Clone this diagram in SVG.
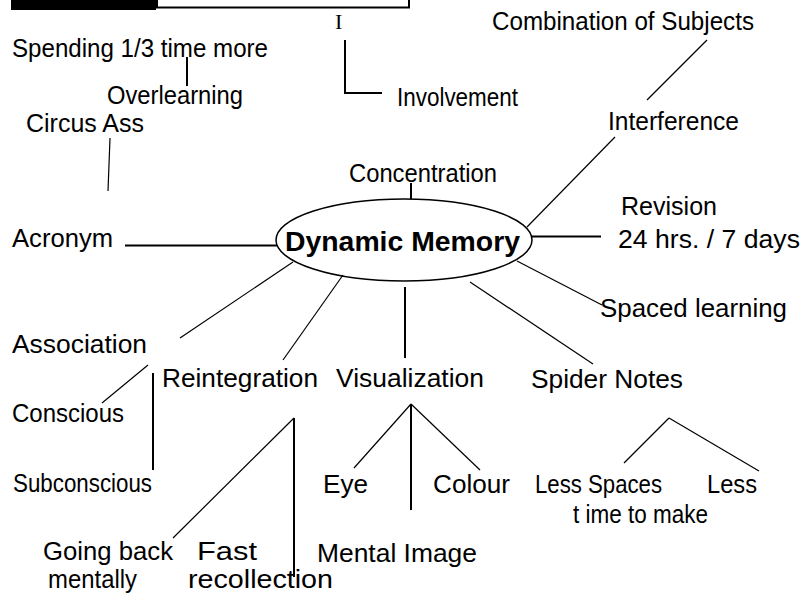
<svg xmlns="http://www.w3.org/2000/svg" width="801" height="600" viewBox="0 0 801 600">
<style>
text{font-family:"Liberation Sans",Arial,sans-serif;font-size:26px;fill:#000}
.b{font-weight:bold;font-size:28px}
.s{font-family:"Liberation Serif","Times New Roman",serif;font-size:22px}
.t{stroke:#000;stroke-width:1.2;fill:none}
.k{stroke:#000;stroke-width:2;fill:none}
</style>
<rect width="801" height="600" fill="#fff"/>
<g id="header">
<rect x="11" y="-2" width="145" height="12" fill="#000"/>
<rect x="157" y="-4" width="252" height="11.5" fill="#fff" stroke="#000" stroke-width="2"/>
<text class="s" x="335" y="29">I</text>
</g>
<g id="connectors">
<line class="k" x1="187" y1="57" x2="187" y2="86"/>
<line class="t" x1="110" y1="138" x2="108" y2="191"/>
<line class="k" x1="125" y1="245.5" x2="277" y2="245.5"/>
<line class="k" x1="411" y1="183" x2="411" y2="199"/>
<polyline class="k" points="345,40 345,93 382,93"/>
<line class="t" x1="707" y1="40" x2="647" y2="100"/>
<line class="t" x1="615" y1="137" x2="527" y2="227"/>
<line class="k" x1="532" y1="236.5" x2="601" y2="236.5"/>
<line class="t" x1="517" y1="261" x2="602" y2="305"/>
<line class="t" x1="470" y1="282" x2="593" y2="364"/>
<line class="k" x1="405" y1="287" x2="405" y2="358"/>
<line class="t" x1="343" y1="275" x2="283" y2="360"/>
<line class="t" x1="293" y1="262" x2="180" y2="338"/>
<line class="t" x1="148" y1="365" x2="102" y2="403"/>
<line class="k" x1="153" y1="373" x2="153" y2="470"/>
<line class="t" x1="294" y1="418" x2="173" y2="538"/>
<line class="k" x1="294" y1="418" x2="294" y2="577"/>
<line class="t" x1="411" y1="404" x2="354" y2="468"/>
<line class="t" x1="411" y1="404" x2="480" y2="470"/>
<line class="k" x1="411" y1="404" x2="411" y2="510"/>
<line class="t" x1="624" y1="463" x2="669" y2="418"/>
<line class="t" x1="669" y1="418" x2="759" y2="471"/>
</g>
<g id="center">
<ellipse cx="404" cy="240" rx="128" ry="41" fill="none" stroke="#000" stroke-width="1.5"/>
<text class="b" x="285" y="251" textLength="235" lengthAdjust="spacingAndGlyphs">Dynamic Memory</text>
</g>
<g id="spending"><text x="12" y="57" textLength="256" lengthAdjust="spacingAndGlyphs">Spending 1/3 time more</text></g>
<g id="overlearning"><text x="107" y="104" textLength="136" lengthAdjust="spacingAndGlyphs">Overlearning</text></g>
<g id="circus"><text x="26" y="132" textLength="118" lengthAdjust="spacingAndGlyphs">Circus Ass</text></g>
<g id="acronym"><text x="12" y="247" textLength="101" lengthAdjust="spacingAndGlyphs">Acronym</text></g>
<g id="concentration"><text x="349" y="182" textLength="148" lengthAdjust="spacingAndGlyphs">Concentration</text></g>
<g id="involvement"><text x="397" y="106" textLength="121" lengthAdjust="spacingAndGlyphs">Involvement</text></g>
<g id="combination"><text x="492" y="30" textLength="262" lengthAdjust="spacingAndGlyphs">Combination of Subjects</text></g>
<g id="interference"><text x="608" y="130" textLength="131" lengthAdjust="spacingAndGlyphs">Interference</text></g>
<g id="revision"><text x="621" y="215" textLength="96" lengthAdjust="spacingAndGlyphs">Revision</text><text x="618" y="248" textLength="182" lengthAdjust="spacingAndGlyphs">24 hrs. / 7 days</text></g>
<g id="spaced"><text x="600" y="317" textLength="187" lengthAdjust="spacingAndGlyphs">Spaced learning</text></g>
<g id="spider"><text x="531" y="388" textLength="152" lengthAdjust="spacingAndGlyphs">Spider Notes</text></g>
<g id="visualization"><text x="336" y="387" textLength="148" lengthAdjust="spacingAndGlyphs">Visualization</text></g>
<g id="reintegration"><text x="162" y="387" textLength="156" lengthAdjust="spacingAndGlyphs">Reintegration</text></g>
<g id="association"><text x="12" y="353" textLength="135" lengthAdjust="spacingAndGlyphs">Association</text></g>
<g id="conscious"><text x="12" y="422" textLength="112" lengthAdjust="spacingAndGlyphs">Conscious</text></g>
<g id="subconscious"><text x="13" y="492" textLength="139" lengthAdjust="spacingAndGlyphs">Subconscious</text></g>
<g id="goingback"><text x="43" y="560" textLength="130" lengthAdjust="spacingAndGlyphs">Going back</text><text x="48" y="588" textLength="89" lengthAdjust="spacingAndGlyphs">mentally</text></g>
<g id="fast"><text x="197" y="560" textLength="60" lengthAdjust="spacingAndGlyphs">Fast</text><text x="188" y="588" textLength="145" lengthAdjust="spacingAndGlyphs">recollection</text></g>
<g id="eye"><text x="323" y="493" textLength="45" lengthAdjust="spacingAndGlyphs">Eye</text></g>
<g id="colour"><text x="433" y="493" textLength="77" lengthAdjust="spacingAndGlyphs">Colour</text></g>
<g id="mental"><text x="317" y="562" textLength="160" lengthAdjust="spacingAndGlyphs">Mental Image</text></g>
<g id="lessspaces"><text x="535" y="493" textLength="127" lengthAdjust="spacingAndGlyphs">Less Spaces</text><text x="573" y="523" textLength="135" lengthAdjust="spacingAndGlyphs">t ime to make</text></g>
<g id="less"><text x="707" y="493" textLength="50" lengthAdjust="spacingAndGlyphs">Less</text></g>
</svg>
